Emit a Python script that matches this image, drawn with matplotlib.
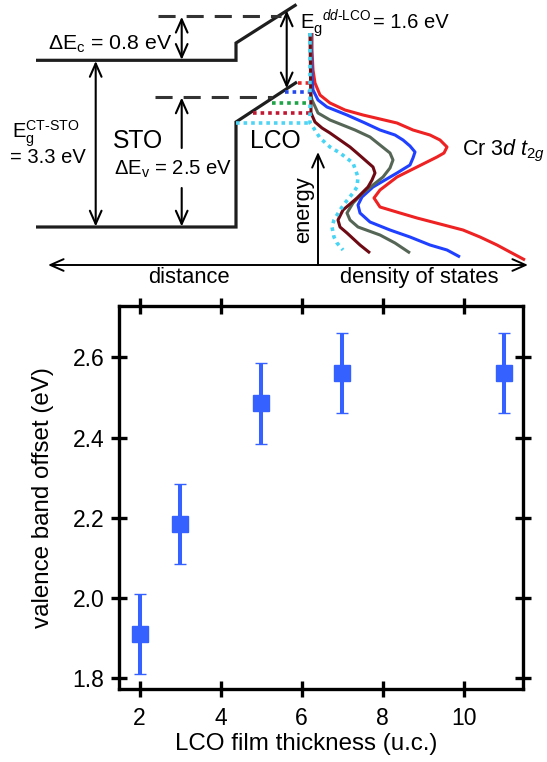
import matplotlib
matplotlib.use("Agg")
import matplotlib.pyplot as plt
from matplotlib.ticker import FormatStrFormatter

plt.rcParams['font.family'] = ['Liberation Sans', 'DejaVu Sans']
plt.rcParams['mathtext.fontset'] = 'custom'
plt.rcParams['mathtext.rm'] = 'Liberation Sans'
plt.rcParams['mathtext.it'] = 'Liberation Sans:italic'
plt.rcParams['mathtext.bf'] = 'Liberation Sans:bold'

# ---------------- data: valence band offset ----------------
thickness_uc = [2, 3, 5, 7, 11]
vbo_eV = [1.91, 2.185, 2.485, 2.56, 2.56]
vbo_err = [0.1, 0.1, 0.1, 0.1, 0.1]
x_ticks = [2, 4, 6, 8, 10]
y_ticks = [1.8, 2.0, 2.2, 2.4, 2.6]

# ---------------- schematic (pixel units of the top panel) ----------------
cb_x = [36, 236, 236, 296.5]
cb_y = [60.3, 60.3, 43, 4.5]
vb_x = [36, 236, 236, 297]
vb_y = [227, 227, 122, 82]
dash_cb_x = [158, 281]
dash_cb_y = [16.3, 16.3]
dash_vb_x = [155, 272]
dash_vb_y = [97, 97]

dot_levels_y = [82.7, 92.3, 102.7, 113.3, 123.3]
dot_levels_x0 = [297.7, 285, 271.7, 253, 236]
dot_levels_x1 = [310, 310, 310, 310, 310]
dot_colors = ['#e82828', '#2448f0', '#1ea446', '#c01832', '#50d4f4']

red_x = [312, 312, 313, 315, 320, 330, 345, 363, 380, 397, 413, 430, 440, 447, 444, 437, 417, 397, 380, 374, 380, 400, 417, 440, 463, 480, 497, 510, 525]
red_y = [33, 50, 70, 83, 95, 103, 110, 115, 119, 123, 130, 135, 140, 147, 153, 157, 167, 177, 190, 198, 207, 213, 218, 224, 230, 237, 245, 252, 260]
blue_x = [311, 312, 313, 318, 327, 347, 365, 380, 395, 403, 410, 415, 413, 410, 397, 385, 373, 362, 358, 360, 370, 390, 410, 430, 447, 460]
blue_y = [33, 75, 90, 100, 107, 115, 123, 130, 135, 140, 146, 152, 158, 165, 173, 180, 187, 197, 205, 213, 222, 230, 237, 245, 250, 257]
gray_x = [311, 311, 312, 318, 330, 340, 355, 370, 380, 390, 393, 390, 383, 373, 363, 353, 347, 350, 358, 380, 395, 410]
gray_y = [33, 95, 100, 113, 120, 124, 130, 137, 145, 153, 160, 168, 177, 185, 193, 203, 213, 220, 227, 235, 243, 253]
maroon_x = [310, 311, 315, 322, 330, 340, 350, 357, 365, 373, 375, 372, 368, 357, 343, 338, 340, 347, 360, 370]
maroon_y = [33, 113, 122, 128, 133, 140, 147, 153, 160, 167, 173, 180, 187, 198, 210, 220, 227, 233, 245, 253]
cyan_x = [310, 310, 313, 320, 330, 340, 353, 358, 357, 353, 345, 340, 334, 332, 334, 337, 343]
cyan_y = [33, 123, 127, 138, 147, 153, 163, 177, 187, 193, 203, 210, 220, 227, 237, 243, 250]

fig = plt.figure(figsize=(5.47, 7.62), dpi=100)

# ---------------- top schematic ----------------
axt = fig.add_axes([0, (762 - 290) / 762, 1, 290 / 762])
axt.set_xlim(0, 547)
axt.set_ylim(290, 0)
axt.axis('off')

band_kw = dict(color='#1e1e1e', lw=2.3, solid_joinstyle='miter', solid_capstyle='butt')
axt.plot(cb_x, cb_y, **band_kw)
axt.plot(vb_x, vb_y, **band_kw)
axt.plot(dash_cb_x, dash_cb_y, color='#333333', lw=2.2, dashes=(5.6, 3.6))
axt.plot(dash_vb_x, dash_vb_y, color='#333333', lw=2.2, dashes=(5.6, 3.6))

for yv, x0, x1, c in zip(dot_levels_y, dot_levels_x0, dot_levels_x1, dot_colors):
    axt.plot([x0, x1], [yv, yv], color=c, lw=2.6, dashes=(1.0, 1.1))

curve_kw = dict(lw=2.2, solid_capstyle='butt')
axt.plot(red_x, red_y, color='#ee2222', **curve_kw)
axt.plot(blue_x, blue_y, color='#2040ff', **curve_kw)
axt.plot(gray_x, gray_y, color='#566656', **curve_kw)
axt.plot(maroon_x, maroon_y, color='#6e0a14', **curve_kw)
axt.plot(cyan_x, cyan_y, color='#48d4f4', lw=2.6, dashes=(1.0, 1.2))


def arrow(x0, y0, x1, y1, style='<->', lw=1.5):
    axt.annotate('', xy=(x1, y1), xytext=(x0, y0),
                 arrowprops=dict(arrowstyle=style + ',head_length=0.95,head_width=0.42',
                                 lw=lw, color='black', shrinkA=0, shrinkB=0,
                                 mutation_scale=10),
                 annotation_clip=False)


arrow(181.7, 16.8, 181.7, 59.8)          # dEc
arrow(95.7, 61, 95.7, 226.5)             # Eg CT-STO
arrow(181.7, 148, 181.7, 97.5, '->')     # dEv up
arrow(181.7, 188, 181.7, 226.5, '->')    # dEv down
arrow(286.7, 10.5, 286.7, 88.3)          # Eg dd-LCO
arrow(318, 265, 318, 152, '->', lw=1.4)  # energy
arrow(48, 265, 528, 265, '<->', lw=1.4)  # distance / DOS

fs_lab = 14.5
axt.text(48, 50, r'ΔE$_\mathregular{c}$ = 0.8 eV', fontsize=15.3, ha='left', va='baseline')
axt.text(114, 175, r'ΔE$_\mathregular{v}$ = 2.5 eV', fontsize=14.6, ha='left', va='baseline')
axt.text(11.5, 138, r'E$_\mathrm{g}^\mathrm{CT\text{-}STO}$', fontsize=fs_lab, ha='left', va='baseline')
axt.text(10, 162.7, '= 3.3 eV', fontsize=fs_lab, ha='left', va='baseline')
axt.text(113, 148, 'STO', fontsize=17.8, ha='left', va='baseline')
axt.text(250, 148, 'LCO', fontsize=17.8, ha='left', va='baseline')
axt.text(300, 27.5, 'E', fontsize=fs_lab, ha='left', va='baseline')
axt.text(313.5, 33, 'g', fontsize=10.5, ha='left', va='baseline')
axt.text(321.5, 19.5, r'$dd$-LCO', fontsize=9.8, ha='left', va='baseline')
axt.text(373, 27.5, '= 1.6 eV', fontsize=fs_lab, ha='left', va='baseline')
axt.text(462, 155, r'Cr 3$d$ $t_{2g}$', fontsize=15.5, ha='left', va='baseline')
axt.text(189, 283, 'distance', fontsize=15.8, ha='center', va='baseline')
axt.text(419, 283, 'density of states', fontsize=15.8, ha='center', va='baseline')
axt.text(303.5, 210, 'energy', fontsize=15.8, ha='center', va='center', rotation=90)

# ---------------- bottom plot ----------------
ax = fig.add_axes([119 / 547, 1 - 689.3 / 762, (523.3 - 119) / 547, (689.3 - 305.7) / 762])
ax.errorbar(thickness_uc, vbo_eV, yerr=vbo_err, fmt='s', color='#3461ff', mec='#3461ff',
            ms=11.4, mew=1.0, elinewidth=2.9, capsize=4.6, capthick=2.9, zorder=3)
ax.set_xlim(1.49, 11.47)
ax.set_ylim(1.7726, 2.7286)
ax.set_xticks(x_ticks)
ax.set_yticks(y_ticks)
ax.yaxis.set_major_formatter(FormatStrFormatter('%.1f'))
for s in ax.spines.values():
    s.set_linewidth(2.4)
ax.tick_params(direction='inout', length=11, width=2.4, top=True, right=True,
               labelsize=16.5)
ax.tick_params(axis='x', pad=7)
ax.tick_params(axis='y', pad=5)
ax.set_xlabel('LCO film thickness (u.c.)', fontsize=17.4)
ax.set_ylabel('valence band offset (eV)', fontsize=17.4)
ax.yaxis.set_label_coords(-0.16, 0.5)
ax.xaxis.set_label_coords(0.463, -0.113)

fig.savefig('out.png', dpi=100)
